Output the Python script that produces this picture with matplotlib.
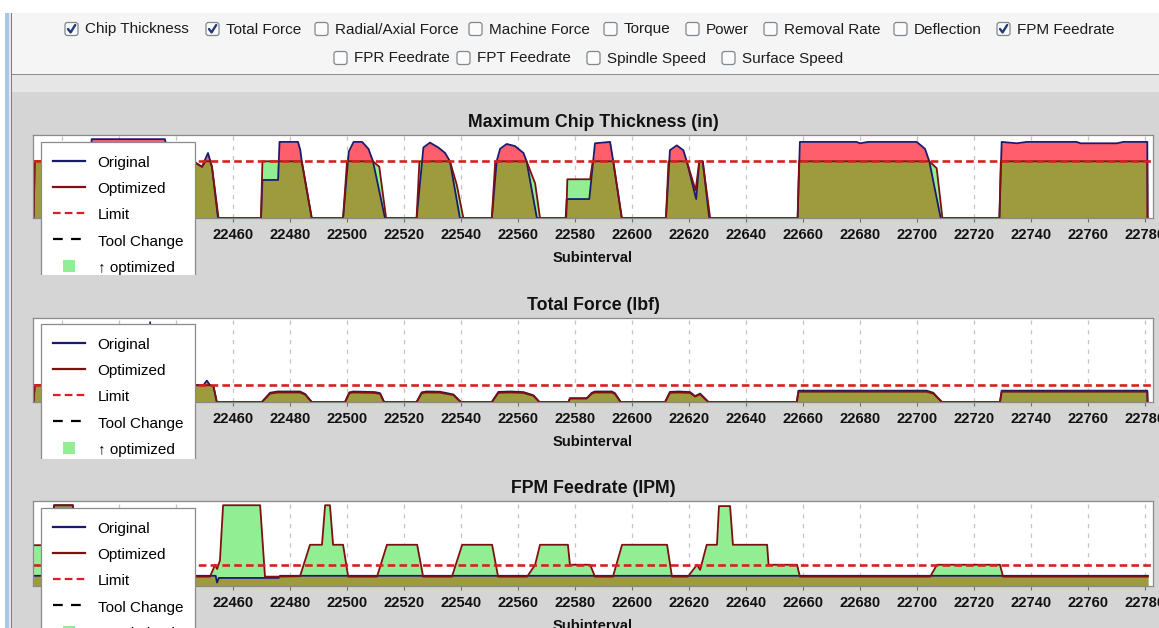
import numpy as np
import matplotlib
matplotlib.use("Agg")
import matplotlib.pyplot as plt
from matplotlib.lines import Line2D
from matplotlib.patches import Rectangle, FancyBboxPatch
from matplotlib.ticker import MultipleLocator, FormatStrFormatter
from matplotlib.transforms import Bbox, TransformedBbox, IdentityTransform

plt.rcParams['font.family'] = ['Liberation Sans', 'DejaVu Sans']
plt.rcParams['lines.scale_dashes'] = False

# ------------------------------------------------------------------ data
row1_labels = ["Chip Thickness", "Total Force", "Radial/Axial Force", "Machine Force",
               "Torque", "Power", "Removal Rate", "Deflection", "FPM Feedrate"]
row1_checked = [True, True, False, False, False, False, False, False, True]
row2_labels = ["FPR Feedrate", "FPT Feedrate", "Spindle Speed", "Surface Speed"]
row2_checked = [False, False, False, False]

legend_labels = ["Original", "Optimized", "Limit", "Tool Change", "\u2191 optimized"]

# Maximum chip thickness (in)
chip_limit = 0.0041
chip_x_orig = [22390.0, 22390.4, 22396.5, 22397.0, 22402.0, 22402.5, 22409.8, 22410.4, 22436.1, 22437.5,
               22446.0, 22449.1, 22451.2, 22452.6, 22454.7,
               22469.8, 22470.3, 22475.8, 22476.3, 22482.8, 22483.6, 22484.1, 22487.6,
               22498.6, 22500.6, 22502.3, 22505.3, 22507.5, 22509.1, 22513.3,
               22524.4, 22526.8, 22529.1, 22532.0, 22534.4, 22536.1, 22539.6,
               22550.8, 22552.5, 22553.7, 22556.0, 22558.9, 22561.9, 22563.0, 22566.6,
               22576.7, 22577.1, 22585.0, 22587.0, 22592.3, 22593.4, 22596.4,
               22611.9, 22613.3, 22615.7, 22618.0, 22619.2, 22622.5, 22623.6, 22624.8, 22627.1,
               22658.1, 22658.9, 22678.8, 22680.0, 22682.9, 22699.9, 22702.8, 22704.3, 22708.3,
               22728.9, 22729.7, 22735.0, 22738.5, 22756.0, 22757.4, 22770.1, 22772.4, 22780.8, 22780.9]
chip_y_orig = [0, 0.0041, 0.0041, 0, 0, 0.0038, 0.0038, 0.0057, 0.0057, 0.0041,
               0.0041, 0.0037, 0.0047, 0.0037, 0,
               0, 0.00275, 0.00275, 0.0055, 0.0055, 0.0049, 0.0041, 0,
               0, 0.0048, 0.0055, 0.0055, 0.0050, 0.0041, 0,
               0, 0.0051, 0.00545, 0.0051, 0.0047, 0.0041, 0,
               0, 0.0041, 0.0050, 0.00535, 0.0052, 0.0047, 0.0041, 0,
               0, 0.00137, 0.00137, 0.0054, 0.0055, 0.0041, 0,
               0, 0.0049, 0.00525, 0.0049, 0.0041, 0.00137, 0.0041, 0.0041, 0,
               0, 0.0055, 0.0055, 0.0054, 0.0055, 0.0055, 0.0050, 0.0041, 0,
               0, 0.0055, 0.0054, 0.0055, 0.0055, 0.0054, 0.0054, 0.0055, 0.0055, 0]
chip_x_opt = [22390.0, 22390.4, 22396.5, 22397.0, 22402.0, 22402.5, 22409.8, 22410.4, 22436.1,
              22446.0, 22449.1, 22450.4, 22451.9, 22452.6, 22454.9,
              22469.8, 22470.3, 22484.1, 22487.6,
              22498.6, 22500.0, 22509.1, 22511.3, 22513.7,
              22524.4, 22525.4, 22536.1, 22538.5, 22540.8,
              22550.8, 22552.0, 22563.0, 22566.0, 22567.7,
              22576.9, 22577.3, 22585.3, 22586.2, 22593.4, 22596.4,
              22611.9, 22612.8, 22619.2, 22622.3, 22623.6, 22624.8, 22627.4,
              22658.1, 22658.6, 22704.3, 22706.9, 22708.9,
              22728.9, 22729.4, 22780.8, 22780.9]
chip_y_opt = [0, 0.0041, 0.0041, 0, 0, 0.0038, 0.0038, 0.0041, 0.0041,
              0.0041, 0.0037, 0.0041, 0.0041, 0.0037, 0,
              0, 0.0041, 0.0041, 0,
              0, 0.0041, 0.0041, 0.0037, 0,
              0, 0.0041, 0.0041, 0.0024, 0,
              0, 0.0041, 0.0041, 0.0025, 0,
              0, 0.0028, 0.0028, 0.0041, 0.0041, 0,
              0, 0.0041, 0.0041, 0.0020, 0.0041, 0.0041, 0,
              0, 0.0041, 0.0041, 0.0036, 0,
              0, 0.0041, 0.0041, 0]

# Total force (lbf)
force_limit = 200
force_x = [22390.0, 22390.4, 22396.5, 22397.0, 22402.0, 22402.5, 22409.8, 22410.4, 22430.3, 22430.9,
           22431.5, 22436.1, 22437.5, 22446.0, 22449.6, 22450.8, 22451.9, 22453.1, 22454.3,
           22470.1, 22473.0, 22475.6, 22483.5, 22485.3, 22487.6,
           22499.3, 22500.8, 22502.2, 22509.8, 22511.6, 22513.0,
           22524.4, 22526.2, 22527.9, 22532.6, 22537.3, 22539.9,
           22550.8, 22553.1, 22557.2, 22561.9, 22565.4, 22567.5,
           22577.7, 22578.2, 22584.1, 22585.9, 22587.0, 22592.9, 22594.0, 22596.0,
           22611.6, 22613.3, 22616.3, 22620.4, 22622.1, 22623.9, 22626.8,
           22657.8, 22658.4, 22703.4, 22705.7, 22708.7,
           22729.1, 22729.7, 22780.8, 22780.9]
force_orig = [0, 200, 200, 0, 0, 170, 170, 230, 230, 950,
              230, 230, 200, 200, 200, 255, 200, 190, 0,
              0, 110, 125, 125, 95, 0,
              0, 115, 125, 118, 105, 0,
              0, 115, 125, 122, 90, 0,
              0, 120, 125, 118, 80, 0,
              0, 45, 45, 110, 125, 125, 105, 0,
              0, 120, 125, 118, 70, 100, 0,
              0, 135, 135, 110, 0,
              0, 135, 135, 0]
force_opt = [0, 200, 200, 0, 0, 170, 170, 200, 200, 200,
             200, 200, 200, 200, 200, 200, 200, 190, 0,
             0, 100, 113, 113, 88, 0,
             0, 105, 113, 108, 96, 0,
             0, 105, 113, 111, 83, 0,
             0, 109, 113, 108, 74, 0,
             0, 42, 42, 100, 113, 113, 96, 0,
             0, 109, 113, 108, 65, 92, 0,
             0, 122, 122, 100, 0,
             0, 122, 122, 0]

# FPM feedrate (IPM)
feed_limit = 50
feed_x_orig = [22390.0, 22396.8, 22397.2, 22403.8, 22404.2, 22453.9, 22454.4, 22455.0,
               22476.0, 22476.5, 22781.0]
feed_orig = [24, 24, 190, 190, 24, 24, 8, 19, 19, 24, 24]
feed_x_opt = [22390.0, 22396.8, 22397.2, 22403.8, 22404.2, 22420.0, 22422.0, 22451.9, 22453.7,
              22454.4, 22455.4, 22456.5, 22469.5, 22471.2, 22475.4, 22483.5, 22487.0, 22491.2,
              22492.3, 22494.0, 22495.1, 22498.6, 22500.4, 22510.5, 22514.0, 22524.6, 22526.7,
              22536.8, 22540.4, 22550.9, 22553.0, 22563.2, 22566.0, 22567.7, 22577.5, 22578.2,
              22585.3, 22587.0, 22593.3, 22596.5, 22612.3, 22614.0, 22619.6, 22622.8, 22623.9,
              22626.2, 22629.8, 22630.5, 22634.4, 22635.4, 22647.4, 22647.9, 22657.9, 22658.9,
              22704.6, 22707.0, 22729.1, 22730.2, 22781.0]
feed_opt = [96, 96, 190, 190, 96, 96, 22, 22, 50,
            40, 60, 190, 190, 22, 22, 23, 97, 97,
            190, 190, 97, 97, 22, 22, 97, 97, 22,
            22, 97, 97, 22, 22, 50, 97, 97, 50,
            50, 22, 22, 97, 97, 22, 22, 50, 38,
            97, 97, 188, 188, 97, 97, 50, 50, 22,
            22, 50, 50, 22, 22]

# ------------------------------------------------------------------ style
W, H = 1159, 628
PANEL_BG = '#d5d5d5'
RED_FILL = '#ff5f6c'
GREEN_FILL = '#92ee92'
OLIVE_FILL = '#9d9b3d'
NAVY = '#1b1b6e'
DARKRED = '#7e1010'
LIMIT_RED = '#d42222'
XLIM = (22389.8, 22782.8)

fig = plt.figure(figsize=(W / 100, H / 100), dpi=100)
fig.patch.set_facecolor(PANEL_BG)
PX = IdentityTransform()


def rect(x0, y0, x1, y1, **kw):
    fig.add_artist(Rectangle((x0, H - y1), x1 - x0, y1 - y0, transform=PX, **kw))


# window frame and option header
rect(0, 0, W, 13, facecolor='white', edgecolor='none')
rect(0, 0, 5, H, facecolor='white', edgecolor='none')
rect(5, 13, 9, H, facecolor='#a7c6ea', edgecolor='none')
rect(9, 13, 10.5, H, facecolor='#e8e8e8', edgecolor='none')
rect(10.5, 13, 12, H, facecolor='#7d7d7d', edgecolor='none')
rect(12, 13, W, 74, facecolor='#f5f5f5', edgecolor='none')
rect(12, 74, W, 75.2, facecolor='#8c8c8c', edgecolor='none')
rect(12, 75.2, W, 92, facecolor='#e6e6e6', edgecolor='none')

row1_box_x = [65, 206, 315, 469, 604, 686, 764, 894, 997]
row2_box_x = [334, 457, 587, 722]


def checkbox(x, cy, label, checked):
    s = 13
    fig.add_artist(FancyBboxPatch((x, H - cy - s / 2), s, s,
                                  boxstyle='round,pad=0,rounding_size=2.5',
                                  transform=PX, facecolor='#fbfbfb',
                                  edgecolor='#7f8790', linewidth=0.9))
    if checked:
        fig.add_artist(Line2D([x + 3, x + 5.6, x + 10.2],
                              [H - cy, H - cy - 3.4, H - cy + 4.0],
                              transform=PX, color='#1f3c78', lw=1.7,
                              solid_capstyle='round', solid_joinstyle='round'))
    fig.text((x + 20) / W, 1 - (cy + 0.5) / H, label, ha='left', va='center',
             fontsize=11, color='#1c1c1c')


for bx, lab, chk in zip(row1_box_x, row1_labels, row1_checked):
    checkbox(bx, 29, lab, chk)
for bx, lab, chk in zip(row2_box_x, row2_labels, row2_checked):
    checkbox(bx, 58, lab, chk)

# ------------------------------------------------------------------ charts
panels = [
    dict(title="Maximum Chip Thickness (in)", top=135, bottom=218, ylim=(0, 0.006),
         xo=chip_x_orig, yo=chip_y_orig, xp=chip_x_opt, yp=chip_y_opt, limit=chip_limit,
         legend_top=142, legend_clip=275),
    dict(title="Total Force (lbf)", top=318, bottom=402, ylim=(0, 1000),
         xo=force_x, yo=force_orig, xp=force_x, yp=force_opt, limit=force_limit,
         legend_top=324, legend_clip=459),
    dict(title="FPM Feedrate (IPM)", top=501, bottom=586, ylim=(0, 200),
         xo=feed_x_orig, yo=feed_orig, xp=feed_x_opt, yp=feed_opt, limit=feed_limit,
         legend_top=508, legend_clip=H),
]

legend_handles = [
    Line2D([], [], color=NAVY, lw=1.6),
    Line2D([], [], color=DARKRED, lw=1.6),
    Line2D([], [], color=LIMIT_RED, lw=1.6, dashes=(5.5, 3)),
    Line2D([], [], color='black', lw=1.6, dashes=(7, 6)),
    Line2D([], [], color=GREEN_FILL, lw=0, marker='s', markersize=8.5,
           markeredgewidth=0),
]

for p in panels:
    left, right = 33, 1153
    ax = fig.add_axes([left / W, 1 - p['bottom'] / H, (right - left) / W,
                       (p['bottom'] - p['top']) / H])
    ax.set_facecolor('white')
    ax.set_axisbelow(True)

    xo = np.asarray(p['xo'], float)
    yo = np.asarray(p['yo'], float)
    xp = np.asarray(p['xp'], float)
    yp = np.asarray(p['yp'], float)
    xs = np.union1d(np.union1d(xo, xp), np.linspace(xo[0], xo[-1], 12000))
    yo_s = np.interp(xs, xo, yo)
    yp_s = np.interp(xs, xp, yp)
    ax.fill_between(xs, 0, yo_s, color=RED_FILL, lw=0)
    ax.fill_between(xs, 0, yp_s, color=GREEN_FILL, lw=0)
    ax.fill_between(xs, 0, np.minimum(yo_s, yp_s), color=OLIVE_FILL, lw=0)
    ax.plot(xo, yo, color=NAVY, lw=1.3, solid_joinstyle='round')
    ax.plot(xp, yp, color=DARKRED, lw=1.3, solid_joinstyle='round')
    ax.axhline(p['limit'], color=LIMIT_RED, lw=1.9, dashes=(5.5, 3))

    ax.set_xlim(*XLIM)
    ax.set_ylim(*p['ylim'])
    ax.set_yticks([])
    ax.xaxis.set_major_locator(MultipleLocator(20))
    ax.xaxis.set_major_formatter(FormatStrFormatter('%d'))
    ax.grid(axis='x', color='#c4c4c4', lw=0.9, linestyle=(0, (3, 4)))
    ax.tick_params(axis='x', direction='out', length=3, width=0.8, color='#707070',
                   labelsize=10.6, pad=4, labelcolor='#111111')
    for lab in ax.get_xticklabels():
        lab.set_fontweight('bold')
    for s in ax.spines.values():
        s.set_color('#8a8a8a')
        s.set_linewidth(0.9)

    ax.set_title(p['title'], fontsize=12.8, fontweight='bold', pad=6, color='#111111')
    ax.set_xlabel("Subinterval", fontsize=10.6, fontweight='bold', labelpad=6.5,
                  color='#111111')

    leg = ax.legend(legend_handles, legend_labels, loc='upper left',
                    bbox_to_anchor=(41, H - p['legend_top']), bbox_transform=PX,
                    borderaxespad=0, frameon=True, fancybox=False, framealpha=1,
                    edgecolor='#8a8a8a', fontsize=11, handlelength=2.1,
                    handleheight=1.14, handletextpad=0.8, labelspacing=0.69,
                    borderpad=0.8, numpoints=1)
    leg.get_frame().set_linewidth(0.9)
    clip = TransformedBbox(Bbox.from_extents(0, H - p['legend_clip'], W, H), PX)
    for a in leg.findobj():
        a.set_clip_box(clip)
        a.set_clip_on(True)

fig.savefig("out.png", dpi=100, facecolor=fig.get_facecolor())
